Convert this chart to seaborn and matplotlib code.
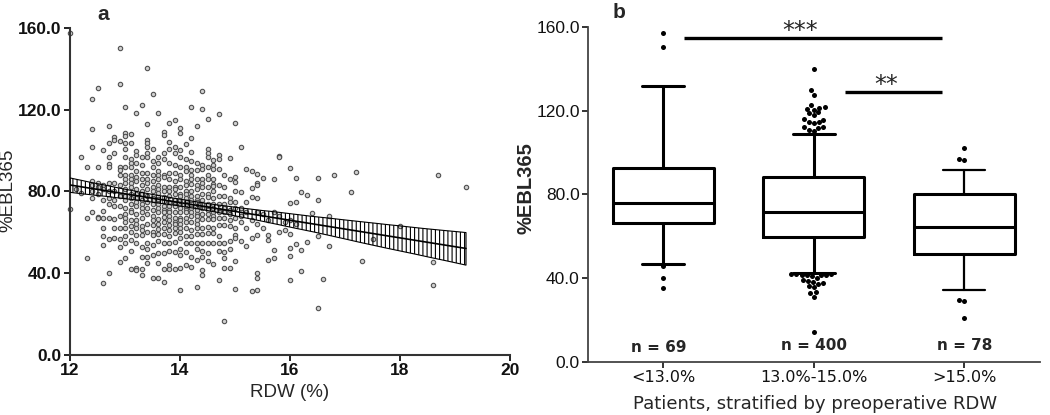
import numpy as np
import pandas as pd
import matplotlib
matplotlib.use("Agg")
import matplotlib.pyplot as plt
import seaborn as sns

# ── Panel a: RDW vs %EBL365, one list per RDW column ──
cols_lt13 = [
    (12.0, [157.6, 71.5]),
    (12.1, [81.0]),
    (12.2, [97.0, 79.5]),
    (12.3, [92.2, 66.9, 47.6]),
    (12.4, [125.2, 110.5, 101.7, 85.0, 83.0, 80.0, 77.0, 70.0]),
    (12.5, [130.8, 92.0, 84.0, 82.0, 79.0, 67.5, 67.2]),
    (12.6, [100.3, 83.0, 81.0, 76.0, 70.4, 67.2, 62.0, 58.4, 53.8, 35.4]),
    (12.7, [111.8, 103.5, 97.0, 93.4, 92.2, 84.0, 80.0, 77.0, 74.0, 67.2, 56.8, 39.9]),
    (12.8, [106.7, 105.0, 98.7, 84.0, 80.0, 76.0, 73.0, 66.4, 62.3, 57.0]),
    (12.9, [150.4, 132.4, 104.7, 92.2, 90.5, 88.3, 83.0, 78.0, 73.0, 68.0, 62.0, 56.6, 52.7, 45.7]),
]
cols_13_14 = [
    (13.0, [121.5, 108.5, 107.2, 103.6, 101.0, 97.0, 92.0, 88.0, 86.0, 84.0, 81.0, 78.0, 76.0, 72.0, 69.0, 67.0, 65.0, 62.0, 58.2, 54.6, 47.3]),
    (13.1, [108.0, 103.6, 96.0, 94.0, 92.0, 88.0, 86.0, 84.0, 82.0, 79.0, 77.0, 74.0, 71.0, 70.0, 66.0, 63.0, 60.0, 56.3, 51.0, 42.0]),
    (13.2, [118.5, 100.0, 98.0, 94.0, 90.0, 87.0, 85.0, 81.0, 79.0, 77.0, 75.0, 73.0, 69.0, 66.0, 64.0, 62.0, 58.7, 55.0, 42.7, 41.6]),
    (13.3, [122.3, 97.0, 93.0, 89.0, 86.0, 83.0, 80.0, 79.0, 76.0, 74.0, 72.0, 70.0, 67.0, 63.0, 61.0, 58.7, 53.0, 48.0, 42.0, 39.0]),
    (13.4, [140.2, 113.0, 105.2, 103.6, 102.0, 98.7, 97.0, 89.0, 86.0, 84.0, 81.0, 78.0, 75.0, 72.0, 69.0, 64.0, 60.0, 55.0, 52.0, 48.0, 44.9]),
    (13.5, [127.7, 101.0, 95.0, 92.0, 88.0, 85.0, 82.0, 80.0, 77.0, 76.0, 74.0, 71.0, 68.0, 66.0, 63.6, 60.4, 58.7, 54.0, 49.0, 37.5]),
    (13.6, [118.5, 97.0, 94.0, 90.0, 88.0, 86.0, 83.0, 81.0, 79.5, 76.4, 74.0, 72.0, 70.0, 66.5, 64.0, 61.5, 59.0, 56.0, 50.0, 45.0, 37.5]),
    (13.7, [109.0, 107.8, 99.0, 96.0, 88.0, 87.0, 82.0, 80.0, 77.5, 75.4, 73.0, 71.0, 70.0, 67.5, 65.0, 62.0, 59.0, 54.6, 50.0, 42.0, 35.9]),
    (13.8, [113.6, 104.0, 101.0, 94.0, 89.0, 86.0, 82.0, 80.0, 78.0, 75.0, 73.0, 71.0, 69.8, 68.0, 66.0, 63.5, 61.0, 58.0, 55.0, 51.0, 44.0, 42.0]),
    (13.9, [115.0, 102.0, 99.0, 93.0, 88.9, 85.0, 82.0, 81.0, 79.0, 76.0, 74.0, 73.0, 70.0, 67.0, 65.0, 64.0, 62.0, 59.6, 55.3, 50.5, 42.0]),
]
cols_14_15 = [
    (14.0, [111.0, 108.4, 100.3, 97.0, 92.0, 88.0, 86.0, 82.0, 79.0, 78.0, 76.0, 73.5, 72.0, 70.0, 67.2, 66.0, 64.0, 62.0, 60.0, 57.0, 52.0, 48.9, 42.5, 31.8]),
    (14.1, [103.0, 96.0, 92.0, 90.0, 85.0, 83.0, 80.0, 79.0, 77.0, 75.0, 74.0, 72.0, 71.0, 69.8, 67.0, 65.0, 62.0, 58.0, 55.0, 50.2, 44.0]),
    (14.2, [121.5, 106.3, 99.5, 95.0, 90.5, 88.0, 86.0, 83.5, 80.0, 78.0, 76.0, 73.0, 72.0, 70.0, 68.0, 65.0, 61.0, 58.0, 54.6, 48.0, 43.0]),
    (14.3, [111.8, 94.0, 90.5, 86.0, 83.0, 81.0, 78.0, 76.0, 75.0, 72.0, 71.0, 69.0, 68.0, 66.0, 64.0, 62.0, 59.0, 55.0, 52.0, 46.5, 33.2]),
    (14.4, [129.3, 120.4, 93.0, 91.0, 86.0, 84.0, 82.0, 79.0, 76.0, 74.0, 72.0, 69.0, 66.5, 62.0, 59.0, 55.0, 51.0, 48.0, 41.5, 39.0]),
    (14.5, [115.5, 101.0, 99.0, 96.7, 92.0, 88.0, 86.0, 82.0, 79.0, 77.5, 74.0, 71.0, 69.0, 66.5, 62.4, 59.5, 55.0, 49.7, 46.0]),
    (14.6, [95.4, 92.9, 91.0, 86.0, 83.5, 82.5, 80.0, 77.0, 74.0, 72.0, 70.0, 68.0, 66.5, 62.0, 59.5, 55.0, 44.5]),
    (14.7, [117.9, 98.0, 96.0, 91.0, 83.0, 78.0, 74.0, 71.0, 70.0, 67.0, 63.5, 58.0, 55.0, 51.0, 36.5]),
    (14.8, [88.0, 82.0, 78.0, 74.0, 72.0, 70.0, 67.0, 63.5, 55.0, 50.5, 47.3, 42.7, 16.5]),
    (14.9, [96.5, 86.0, 77.0, 75.0, 71.0, 69.0, 66.0, 63.0, 56.0, 52.0, 42.4]),
    (15.0, [113.4, 87.0, 84.6, 80.0, 75.0, 72.0, 67.0, 62.0, 58.6, 57.3, 46.0, 32.5]),
]
cols_gt15 = [
    (15.1, [101.9, 79.6, 72.0, 68.0, 65.2, 55.6]),
    (15.2, [91.0, 75.0, 70.0, 62.0, 53.2]),
    (15.3, [90.0, 81.6, 77.4, 66.0, 57.0, 31.2]),
    (15.4, [88.5, 84.0, 83.0, 77.0, 70.0, 64.0, 58.6, 40.1, 37.7, 31.7]),
    (15.5, [86.8, 69.0, 62.0]),
    (15.6, [66.0, 58.9, 56.5, 46.5]),
    (15.7, [86.2, 70.0, 51.2, 47.6]),
    (15.8, [97.5, 97.0, 68.0, 60.0]),
    (15.9, [65.0, 61.0]),
    (16.0, [91.3, 74.6, 66.0, 59.0, 52.5, 48.4, 36.5]),
    (16.1, [86.5, 74.8, 64.0, 54.4]),
    (16.2, [79.9, 51.2, 41.0]),
    (16.3, [78.3, 55.3]),
    (16.4, [69.7]),
    (16.5, [86.5, 75.7, 58.0, 23.2]),
    (16.6, [37.3]),
    (16.7, [67.9, 53.3]),
    (16.8, [88.1]),
    (17.1, [79.9]),
    (17.2, [89.4]),
    (17.3, [46.1]),
    (17.5, [56.6]),
    (18.0, [63.1]),
    (18.6, [45.7, 34.2]),
    (18.7, [88.1]),
    (19.2, [82.2]),
]

# ── Panel b: box statistics per RDW stratum ──
group_labels = ["<13.0%", "13.0%-15.0%", ">15.0%"]
group_n = [69, 400, 78]
box_q1 = [66.6, 59.6, 51.4]
box_med = [76.0, 71.7, 64.5]
box_q3 = [92.7, 88.4, 80.4]
whisker_lo = [47.0, 42.5, 34.2]
whisker_hi = [131.7, 108.8, 91.6]
fliers_lt13 = [157.2, 150.2, 45.7, 40.3, 35.5]
fliers_13_15 = [139.8, 129.8, 127.7, 122.5, 122.0, 121.5, 121.0, 120.5, 119.2, 118.8,
                117.8, 116.2, 115.8, 114.8, 114.5, 114.2, 112.3, 112.0, 111.6, 110.8,
                110.4, 42.0, 41.9, 41.8, 41.7, 41.6, 41.5, 41.4, 41.2, 40.0, 39.2,
                38.8, 38.2, 37.6, 37.2, 36.4, 35.8, 33.2, 32.8, 31.0, 14.3]
fliers_gt15 = [102.0, 97.0, 96.6, 29.5, 29.2, 21.2]

# ── Style ──
sns.set_theme(style="ticks")
plt.rcParams["font.family"] = ["Liberation Sans", "DejaVu Sans"]
plt.rcParams["hatch.linewidth"] = 0.8

fig = plt.figure(figsize=(10.5, 4.15), dpi=100)
ax1 = fig.add_axes([0.0667, 0.1446, 0.419, 0.788])
ax2 = fig.add_axes([0.560, 0.1277, 0.430, 0.8073])

# ── Panel a ──
all_cols = cols_lt13 + cols_13_14 + cols_14_15 + cols_gt15
rdw = [x for x, ys in all_cols for _ in ys]
ebl = [y for _, ys in all_cols for y in ys]

sns.scatterplot(x=rdw, y=ebl, ax=ax1, marker="o", s=10, color="#cfcfcf",
                edgecolor="#505050", linewidth=0.8, clip_on=False, zorder=2)
sns.regplot(x=rdw, y=ebl, ax=ax1, scatter=False, ci=95, seed=7,
            line_kws=dict(color="black", lw=1.2, zorder=4))
band = ax1.collections[-1]
band.set_alpha(1)
band.set_facecolor("none")
band.set_edgecolor("black")
band.set_hatch("||||")
band.set_linewidth(0.8)
band.set_zorder(3)

ax1.set_xlim(12, 20)
ax1.set_ylim(0, 160)
xt = [12, 14, 16, 18, 20]
yt = [0, 40, 80, 120, 160]
ax1.set_xticks(xt)
ax1.set_xticklabels([str(v) for v in xt], fontsize=12.5, fontweight="bold")
ax1.set_yticks(yt)
ax1.set_yticklabels([f"{v:.1f}" for v in yt], fontsize=12.5, fontweight="bold")
ax1.set_xlabel("RDW (%)", fontsize=13.5)
ax1.set_ylabel("%EBL365", fontsize=13.5)
ax1.xaxis.set_label_coords(0.5, -0.088)
ax1.yaxis.set_label_coords(-0.122, 0.505)
for side in ["top", "right"]:
    ax1.spines[side].set_visible(False)
for side in ["left", "bottom"]:
    ax1.spines[side].set_linewidth(1.5)
    ax1.spines[side].set_color("#333333")
ax1.tick_params(length=4, width=1.3, pad=2, colors="#111111")

# ── Panel b ──
flier_df = pd.DataFrame({
    "group": [group_labels[0]] * len(fliers_lt13) + [group_labels[1]] * len(fliers_13_15)
             + [group_labels[2]] * len(fliers_gt15),
    "value": fliers_lt13 + fliers_13_15 + fliers_gt15,
})
sns.swarmplot(data=flier_df, x="group", y="value", order=group_labels, ax=ax2,
              color="black", size=3.6, zorder=3)

stats = [dict(q1=q1, med=m, q3=q3, whislo=lo, whishi=hi, fliers=[])
         for q1, m, q3, lo, hi in zip(box_q1, box_med, box_q3, whisker_lo, whisker_hi)]
parts = ax2.bxp(stats, positions=[0, 1, 2], widths=0.67, capwidths=0.28, showfliers=False,
                manage_ticks=False,
                boxprops=dict(color="black", lw=2.2),
                whiskerprops=dict(color="black", lw=2.2),
                capprops=dict(color="black", lw=2.2),
                medianprops=dict(color="black", lw=2.2))
# the >15.0% whiskers are drawn thinner in the original
for line in parts["whiskers"][4:] + parts["caps"][4:]:
    line.set_linewidth(1.6)

for i, n in enumerate(group_n):
    ax2.text(i - (0.03 if i == 0 else 0), 6.7 if i == 0 else 8.1, f"n = {n}",
             ha="center", va="center", fontsize=11, fontweight="bold",
             family=["DejaVu Sans"])

# significance bars
ax2.plot([0.14, 1.854], [154.6, 154.6], color="black", lw=2.4, clip_on=False,
         solid_capstyle="butt")
ax2.text(0.907, 152.2, "***", ha="center", va="bottom", fontsize=17,
         family=["DejaVu Sans"], clip_on=False)
ax2.plot([1.205, 1.854], [128.8, 128.8], color="black", lw=2.4, solid_capstyle="butt")
ax2.text(1.48, 126.6, "**", ha="center", va="bottom", fontsize=17,
         family=["DejaVu Sans"])

ax2.set_xlim(-0.5, 2.5)
ax2.set_ylim(0, 160)
ax2.set_xticks([0, 1, 2])
ax2.set_xticklabels(group_labels, fontsize=11.5, family=["DejaVu Sans"])
ax2.set_yticks(yt)
ax2.set_yticklabels([f"{v:.1f}" for v in yt], fontsize=12.5)
ax2.set_xlabel("Patients, stratified by preoperative RDW", fontsize=13,
               family=["DejaVu Sans"])
ax2.set_ylabel("%EBL365", fontsize=14.5, fontweight="bold")
ax2.xaxis.set_label_coords(0.502, -0.098)
ax2.yaxis.set_label_coords(-0.117, 0.52)
for side in ["top", "right"]:
    ax2.spines[side].set_visible(False)
for side in ["left", "bottom"]:
    ax2.spines[side].set_linewidth(1.3)
    ax2.spines[side].set_color("#444444")
ax2.tick_params(length=4, width=1.2, pad=2, colors="#111111")

fig.text(0.098, 0.964, "a", fontsize=15, fontweight="bold", ha="center", va="center")
fig.text(0.590, 0.971, "b", fontsize=15, fontweight="bold", ha="center", va="center")

fig.savefig("out.png", dpi=100)
